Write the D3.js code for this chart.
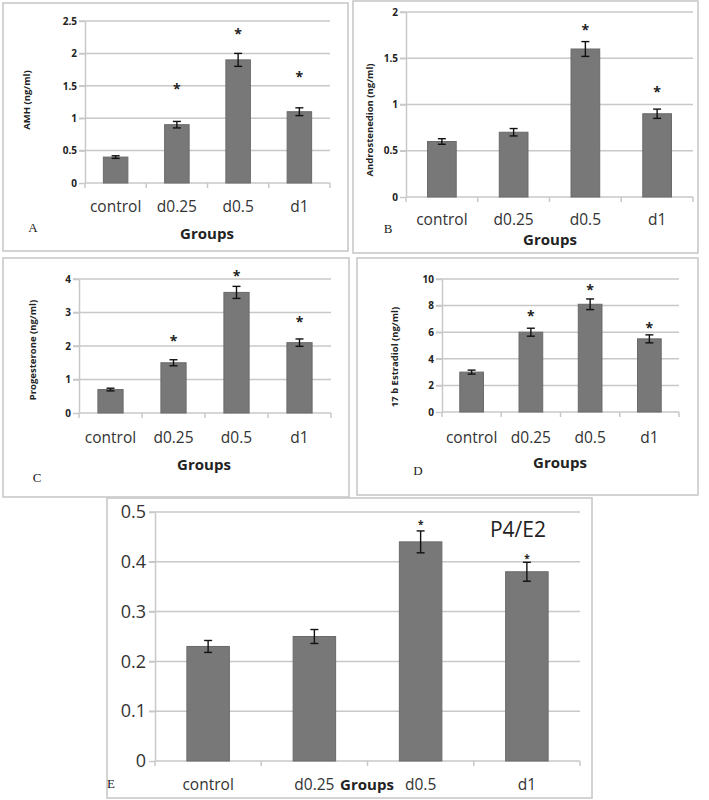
<!DOCTYPE html>
<html>
<head>
<meta charset="utf-8">
<script src="https://cdn.jsdelivr.net/npm/d3@7"></script>
<style>
  html, body { margin: 0; padding: 0; background: #fff; }
  svg { display: block; }
</style>
</head>
<body>
<svg id="chart" width="709" height="800"></svg>
<script>
// ---------- data ----------
const categories = ["control", "d0.25", "d0.5", "d1"];

const amhValues = [0.4, 0.9, 1.9, 1.1];
const amhErrors = [0.02, 0.05, 0.1, 0.06];
const amhStars  = [null, 1.48, 2.33, 1.67];
const amhTicks  = [0, 0.5, 1, 1.5, 2, 2.5];

const androValues = [0.6, 0.7, 1.6, 0.9];
const androErrors = [0.03, 0.04, 0.08, 0.05];
const androStars  = [null, null, 1.83, 1.16];
const androTicks  = [0, 0.5, 1, 1.5, 2];

const progValues = [0.7, 1.5, 3.6, 2.1];
const progErrors = [0.04, 0.09, 0.18, 0.11];
const progStars  = [null, 2.2, 4.14, 2.77];
const progTicks  = [0, 1, 2, 3, 4];

const estrValues = [3.0, 6.0, 8.1, 5.5];
const estrErrors = [0.15, 0.3, 0.4, 0.3];
const estrStars  = [null, 7.4, 9.3, 6.5];
const estrTicks  = [0, 2, 4, 6, 8, 10];

const ratioValues = [0.23, 0.25, 0.44, 0.38];
const ratioErrors = [0.012, 0.014, 0.022, 0.019];
const ratioStars  = [null, null, 0.478, 0.41];
const ratioTicks  = [0, 0.1, 0.2, 0.3, 0.4, 0.5];

const yLabels = ["AMH (ng/ml)", "Androstenedion (ng/ml)", "Progesterone (ng/ml)", "17 b Estradiol (ng/ml)", null];
const panelLetters = ["A", "B", "C", "D", "E"];
const xTitle = "Groups";
const ratioTitle = "P4/E2";

// ---------- layout ----------
const svg = d3.select("#chart");
const BAR = "#787878", BAR_STROKE = "#6a6a6a", GRID = "#c8c8c8", BORDER = "#c9c9c9";

const panels = [
  { values: amhValues, errors: amhErrors, stars: amhStars, ticks: amhTicks, ylabel: yLabels[0], letter: panelLetters[0],
    box: [3, 3, 348, 251], x0: 85, x1: 330, yTop: 21, yBottom: 183, tickFs: 10, tickBold: true,
    catY: 207, groups: [207, 234], letterPos: [33, 227], ylabelPos: [27, 100], starFs: 14 },
  { values: androValues, errors: androErrors, stars: androStars, ticks: androTicks, ylabel: yLabels[1], letter: panelLetters[1],
    box: [353, 1, 698, 253], x0: 406, x1: 693, yTop: 12, yBottom: 197, tickFs: 10, tickBold: true,
    catY: 220, groups: [550, 240], letterPos: [388, 228], ylabelPos: [370, 120], starFs: 14 },
  { values: progValues, errors: progErrors, stars: progStars, ticks: progTicks, ylabel: yLabels[2], letter: panelLetters[2],
    box: [3, 258, 349, 497], x0: 79, x1: 331, yTop: 279, yBottom: 413, tickFs: 10, tickBold: true,
    catY: 438, groups: [204, 465], letterPos: [37, 477], ylabelPos: [33, 350], starFs: 14 },
  { values: estrValues, errors: estrErrors, stars: estrStars, ticks: estrTicks, ylabel: yLabels[3], letter: panelLetters[3],
    box: [357, 258, 698, 495], x0: 442, x1: 679, yTop: 279, yBottom: 412, tickFs: 10, tickBold: true,
    catY: 438, groups: [560, 463], letterPos: [418, 470], ylabelPos: [395, 357], starFs: 14 },
  { values: ratioValues, errors: ratioErrors, stars: ratioStars, ticks: ratioTicks, ylabel: yLabels[4], letter: panelLetters[4],
    box: [107, 498, 592, 798], x0: 155, x1: 580, yTop: 512, yBottom: 761, tickFs: 18, tickBold: false,
    catY: 785, groups: [367, 785], letterPos: [111, 783], ylabelPos: null, starFs: 10, title: ratioTitle, titlePos: [518, 537] }
];

panels.forEach(drawPanel);

function drawPanel(p) {
  const g = svg.append("g");
  const [bx0, by0, bx1, by1] = p.box;
  g.append("rect").attr("x", bx0).attr("y", by0).attr("width", bx1 - bx0).attr("height", by1 - by0)
    .attr("fill", "#fff").attr("stroke", BORDER).attr("stroke-width", 1.6);

  const x = d3.scaleBand().domain(categories).range([p.x0, p.x1]).paddingInner(0.6).paddingOuter(0.3);
  const y = d3.scaleLinear().domain([0, d3.max(p.ticks)]).range([p.yBottom, p.yTop]);

  // gridlines
  g.append("g").selectAll("line").data(p.ticks.filter(t => t > 0)).join("line")
    .attr("x1", p.x0 - 6).attr("x2", p.x1).attr("y1", d => y(d)).attr("y2", d => y(d))
    .attr("stroke", GRID).attr("stroke-width", 1.5);

  // y axis
  const yAxis = d3.axisLeft(y).tickValues(p.ticks).tickSize(6).tickSizeOuter(0).tickFormat(d => String(d));
  const ya = g.append("g").attr("transform", `translate(${p.x0},0)`).call(yAxis);
  ya.select(".domain").attr("stroke", GRID).attr("stroke-width", 1.5);
  ya.selectAll(".tick line").attr("stroke", GRID).attr("stroke-width", 1.5);
  ya.selectAll(".tick text")
    .attr("font-family", "'Open Sans', sans-serif")
    .attr("font-size", p.tickFs)
    .attr("font-weight", p.tickBold ? "bold" : "normal")
    .attr("fill", p.tickBold ? "#222" : "#333")
    .attr("x", p.tickBold ? -8 : -9);

  // x axis baseline with boundary ticks
  g.append("line").attr("x1", p.x0).attr("x2", p.x1).attr("y1", y(0)).attr("y2", y(0))
    .attr("stroke", GRID).attr("stroke-width", 1.5);
  const bounds = categories.map(c => x(c) + x.bandwidth() / 2 - x.step() / 2).concat([p.x1]);
  g.append("g").selectAll("line").data(bounds).join("line")
    .attr("x1", d => d).attr("x2", d => d).attr("y1", y(0)).attr("y2", y(0) + 5)
    .attr("stroke", GRID).attr("stroke-width", 1.5);

  // category labels
  g.append("g").selectAll("text").data(categories).join("text")
    .attr("x", d => x(d) + x.bandwidth() / 2).attr("y", p.catY).attr("dy", "0.35em")
    .attr("text-anchor", "middle")
    .attr("font-family", "'Open Sans', sans-serif").attr("font-size", 15.5).attr("fill", "#333")
    .text(d => d);

  // bars
  const rows = categories.map((c, i) => ({ c, v: p.values[i], e: p.errors[i], s: p.stars[i] }));
  g.append("g").selectAll("rect").data(rows).join("rect")
    .attr("x", d => x(d.c)).attr("width", x.bandwidth())
    .attr("y", d => y(d.v)).attr("height", d => y(0) - y(d.v))
    .attr("fill", BAR).attr("stroke", BAR_STROKE).attr("stroke-width", 1);

  // error bars
  const cap = 4;
  const eg = g.append("g").attr("stroke", "#111").attr("stroke-width", 1.4);
  rows.forEach(d => {
    const cx = x(d.c) + x.bandwidth() / 2;
    eg.append("line").attr("x1", cx).attr("x2", cx).attr("y1", y(d.v + d.e)).attr("y2", y(d.v - d.e));
    eg.append("line").attr("x1", cx - cap).attr("x2", cx + cap).attr("y1", y(d.v + d.e)).attr("y2", y(d.v + d.e));
    eg.append("line").attr("x1", cx - cap).attr("x2", cx + cap).attr("y1", y(d.v - d.e)).attr("y2", y(d.v - d.e));
  });

  // significance stars
  g.append("g").selectAll("text").data(rows.filter(d => d.s != null)).join("text")
    .attr("x", d => x(d.c) + x.bandwidth() / 2)
    .attr("y", d => y(d.s) + p.starFs * 0.5)
    .attr("text-anchor", "middle")
    .attr("font-family", "'Open Sans', sans-serif").attr("font-size", p.starFs).attr("font-weight", "bold")
    .attr("fill", "#222")
    .text("*");

  // x title
  g.append("text").attr("x", p.groups[0]).attr("y", p.groups[1]).attr("dy", "0.35em")
    .attr("text-anchor", "middle")
    .attr("font-family", "'Open Sans', sans-serif").attr("font-size", 15).attr("font-weight", "bold").attr("fill", "#222")
    .text(xTitle);

  // y label
  if (p.ylabel) {
    g.append("text")
      .attr("transform", `translate(${p.ylabelPos[0]},${p.ylabelPos[1]}) rotate(-90)`)
      .attr("dy", "0.35em").attr("text-anchor", "middle")
      .attr("font-family", "'Open Sans', sans-serif").attr("font-size", 9.5).attr("font-weight", "bold").attr("fill", "#222")
      .text(p.ylabel);
  }

  // panel letter
  g.append("text").attr("x", p.letterPos[0]).attr("y", p.letterPos[1]).attr("dy", "0.35em")
    .attr("text-anchor", "middle")
    .attr("font-family", "'Liberation Serif', serif").attr("font-size", 13).attr("fill", "#222")
    .text(p.letter);

  if (p.title) {
    g.append("text").attr("x", p.titlePos[0]).attr("y", p.titlePos[1])
      .attr("text-anchor", "middle")
      .attr("font-family", "'Open Sans', sans-serif").attr("font-size", 21).attr("fill", "#222")
      .text(p.title);
  }
}
</script>
</body>
</html>
